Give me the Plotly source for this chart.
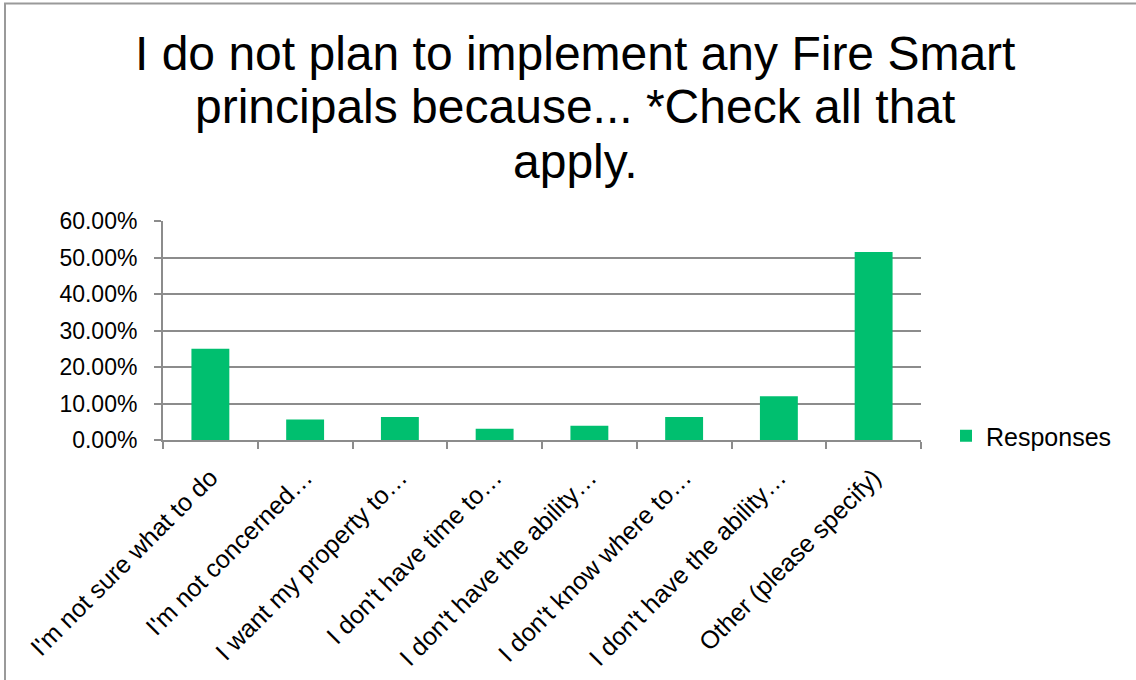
import plotly.graph_objects as go

categories = [
    "I'm not sure what to do",
    "I'm not concerned…",
    "I want my property to…",
    "I don't have time to…",
    "I don't have the ability…",
    "I don't know where to…",
    "I don't have the ability…",
    "Other (please specify)",
]
values = [0.250, 0.056, 0.063, 0.031, 0.039, 0.063, 0.120, 0.515]
tick_vals = [0, 0.1, 0.2, 0.3, 0.4, 0.5, 0.6]
tick_text = ["0.00%", "10.00%", "20.00%", "30.00%", "40.00%", "50.00%", "60.00%"]
title_lines = [
    "I do not plan to implement any Fire Smart",
    "principals because... *Check all that",
    "apply.",
]

W, H = 1136, 680
L, R, T, B = 163, 215, 221, 240
pw, ph = W - L - R, H - T - B
FONT = "Liberation Sans, Arial, sans-serif"

def px(x):
    return (x - L) / pw

def py(y):
    return (H - B - y) / ph

fig = go.Figure()
fig.add_trace(go.Bar(
    x=list(range(len(categories))), y=values, name="Responses",
    marker=dict(color="#00BF6F", line=dict(width=0)),
    width=0.4, showlegend=True,
))

fig.update_layout(
    width=W, height=H,
    margin=dict(l=L, r=R, t=T, b=B, autoexpand=False),
    paper_bgcolor="white", plot_bgcolor="white",
    font=dict(family=FONT, color="#000000", size=22),
    showlegend=True,
    legend=dict(x=px(946), xanchor="left", y=py(436), yanchor="middle",
                font=dict(size=25), bgcolor="rgba(0,0,0,0)", itemwidth=30),
)
for i, (line, yc) in enumerate(zip(title_lines, [53, 107, 161])):
    fig.add_annotation(text=line, xref="paper", yref="paper",
                       x=px(575), y=py(yc), xanchor="center", yanchor="middle",
                       showarrow=False, font=dict(size=48, family=FONT, color="#000000"))

fig.update_xaxes(
    tickmode="array", tickvals=list(range(len(categories))), ticktext=categories,
    range=[-0.5, len(categories) - 0.5],
    tickangle=-45, showgrid=False, zeroline=False,
    showline=True, linecolor="#8c8c8c", linewidth=2,
    ticks="", tickfont=dict(size=25), ticklabelstandoff=11,
)
fig.update_xaxes(minor=dict(tickmode="array", tickvals=[i - 0.5 for i in range(len(categories) + 1)],
                            ticks="outside", ticklen=7, tickcolor="#8c8c8c", tickwidth=2, showgrid=False))
fig.update_yaxes(
    range=[0, 0.6], tickmode="array", tickvals=tick_vals, ticktext=tick_text,
    showgrid=True, gridcolor="#8c8c8c", gridwidth=2, zeroline=False,
    showline=True, linecolor="#8c8c8c", linewidth=2,
    ticks="outside", ticklen=7, tickcolor="#8c8c8c", tickwidth=2,
    tickfont=dict(size=23), ticklabelstandoff=12,
)
# outer chart border (left and top visible)
fig.add_shape(type="rect", xref="paper", yref="paper",
              x0=px(5), x1=px(W + 10), y0=py(H + 10), y1=py(3.5),
              line=dict(color="#9a9a9a", width=2), fillcolor="rgba(0,0,0,0)", layer="below")

fig.write_html("out.html", config={"displayModeBar": False},
               post_script="document.body.style.margin='0px';")
